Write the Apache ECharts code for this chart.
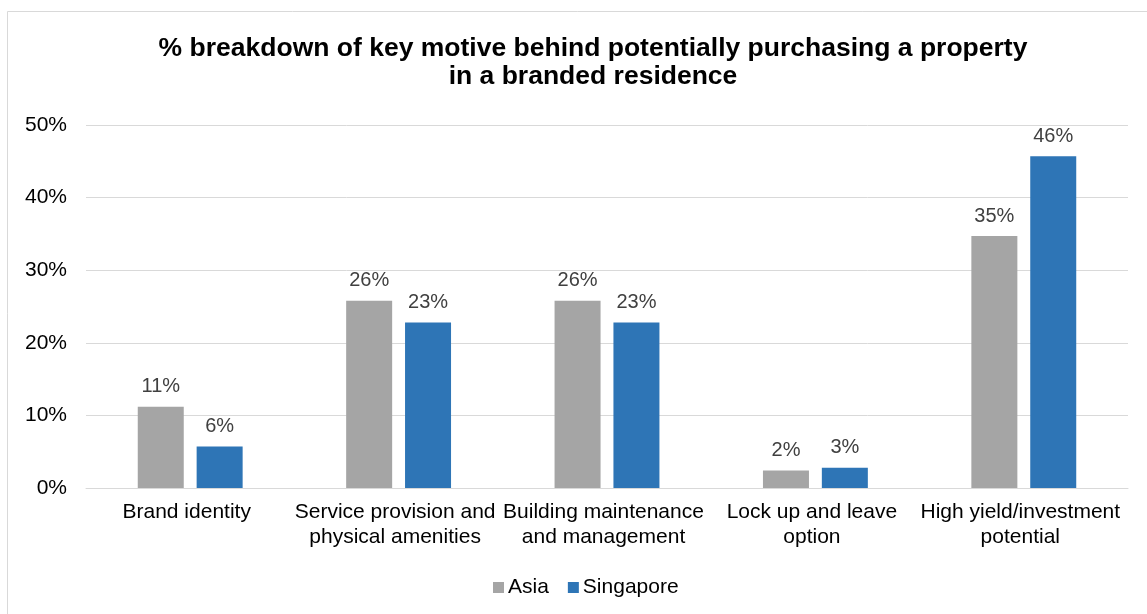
<!DOCTYPE html>
<html>
<head>
<meta charset="utf-8">
<script src="https://cdn.jsdelivr.net/npm/echarts@6/dist/echarts.min.js"></script>
<style>
  html, body { margin: 0; padding: 0; background: #fff; }
  #chart { width: 1147px; height: 614px; }
</style>
</head>
<body>
<div id="chart"></div>
<script>
// Key motive categories (line breaks as shown under the axis)
const categories = [
  'Brand identity',
  'Service provision and\nphysical amenities',
  'Building maintenance\nand management',
  'Lock up and leave\noption',
  'High yield/investment\npotential'
];
// Share of respondents, percent
const asiaValues = [11.2, 25.8, 25.8, 2.4, 34.7];
const singaporeValues = [5.7, 22.8, 22.8, 2.8, 45.7];
const yTicks = [0, 10, 20, 30, 40, 50];

const FONT = '"Liberation Sans", Arial, sans-serif';

const chart = echarts.init(document.getElementById('chart'), null, { renderer: 'canvas' });

const valueLabel = {
  show: true,
  position: 'top',
  distance: 10,
  color: '#404040',
  fontFamily: FONT,
  fontSize: 20,
  formatter: p => Math.round(p.value) + '%'
};

chart.setOption({
  backgroundColor: '#ffffff',
  animation: false,
  graphic: [{
    type: 'rect',
    shape: { x: 7.5, y: 11.5, width: 1160, height: 640 },
    style: { fill: 'none', stroke: '#d9d9d9', lineWidth: 1 },
    silent: true,
    z: -1
  }],
  title: {
    text: '% breakdown of key motive behind potentially purchasing a property\nin a branded residence',
    left: 588,
    textAlign: 'center',
    top: 30,
    textStyle: {
      fontFamily: FONT,
      fontWeight: 'bold',
      fontSize: 26.5,
      lineHeight: 28,
      color: '#000000'
    }
  },
  legend: {
    data: ['Asia', 'Singapore'],
    left: 488,
    top: 572,
    itemWidth: 11,
    itemHeight: 11,
    itemGap: 19,
    icon: 'rect',
    textStyle: { fontFamily: FONT, fontSize: 21, color: '#000000', padding: [0, 0, 0, -1] }
  },
  grid: {
    left: 86,
    right: 19,
    top: 125,
    bottom: 126,
    containLabel: false
  },
  xAxis: {
    type: 'category',
    data: categories,
    axisLine: { lineStyle: { color: '#d9d9d9', width: 1 } },
    axisTick: { show: false },
    axisLabel: {
      interval: 0,
      margin: 12,
      color: '#000000',
      fontFamily: FONT,
      fontSize: 21,
      lineHeight: 25,
      padding: [0, 7, 0, 0]
    }
  },
  yAxis: {
    type: 'value',
    min: yTicks[0],
    max: yTicks[yTicks.length - 1],
    interval: 10,
    axisLine: { show: false },
    axisTick: { show: false },
    splitLine: { lineStyle: { color: '#d9d9d9', width: 1 } },
    axisLabel: {
      margin: 19,
      color: '#000000',
      fontFamily: FONT,
      fontSize: 21,
      formatter: v => v + '%'
    }
  },
  series: [
    {
      name: 'Asia',
      type: 'bar',
      data: asiaValues,
      barWidth: 46,
      barGap: '28%',
      itemStyle: { color: '#a5a5a5' },
      label: valueLabel
    },
    {
      name: 'Singapore',
      type: 'bar',
      data: singaporeValues,
      barWidth: 46,
      itemStyle: { color: '#2e75b6' },
      label: valueLabel
    }
  ]
});
</script>
</body>
</html>
